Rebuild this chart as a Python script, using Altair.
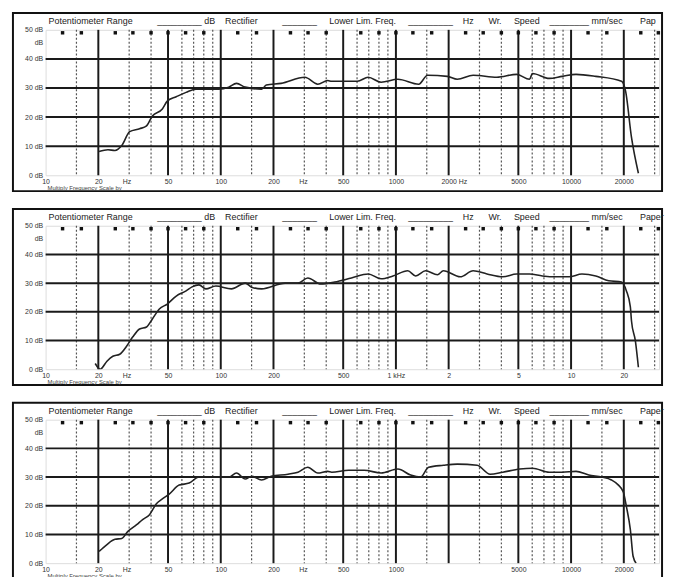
import altair as alt
import pandas as pd

# ---------------- data ----------------
freq_1 = [20.2, 22.7, 24.9, 27.2, 30.2, 34.4, 37.7, 40.7, 46.4, 49.5, 55.7, 63.4, 72.2, 97.4, 111, 123, 138, 171, 182,
          221, 302, 358, 408, 430, 602, 695, 823, 1026, 1349, 1517, 1968, 2240, 2760, 3770, 4890, 5790, 6020, 7510,
          8900, 10670, 13840, 19400, 20460, 22130, 24230]
db_1 = [8.2, 8.8, 8.5, 10.2, 15, 16, 17, 20.4, 22.8, 25.5, 27, 28.5, 29.6, 29.6, 30.3, 31.6, 30.3, 29.6, 31,
        31.6, 33.7, 31.3, 32.6, 32.3, 32.3, 33.7, 32, 33, 31.3, 34.4, 34, 33, 34.4, 33.7, 34.7, 33, 35, 33.3,
        34, 34.7, 34, 32.3, 29, 13, 0.7]

freq_2 = [19.2, 20.5, 22.4, 24.2, 26.5, 29, 31.4, 34.4, 37.7, 40.7, 44.6, 49.5, 55.7, 63.4, 68.6, 75.1, 82.2, 93.7,
          115, 138, 150, 171, 233, 276, 314, 372, 447, 557, 695, 823, 962, 1169, 1297, 1476, 1727, 1866, 2329,
          2760, 3310, 4075, 4890, 5790, 6860, 8230, 9750, 11540, 13840, 16400, 19400, 20700, 21800, 22130, 23300,
          24230]
db_2 = [2, 0, 2.8, 4.5, 5.2, 8, 11.2, 14, 14.7, 17.5, 21, 22.7, 25.5, 27.3, 28.7, 29.4, 28, 29,
        28, 30, 28.6, 28, 30, 30, 31.8, 29.7, 30.4, 31.8, 33.2, 31.5, 32.5, 34.3, 32.5, 34.3, 32.9, 34.3, 32.2,
        34.3, 33.2, 32.2, 33.2, 33.2, 32.5, 32.2, 32.2, 33.2, 32.5, 30.8, 30.4, 27.3, 21.7, 16.8, 9.8,
        0.7]

freq_3 = [20.2, 22.4, 24.9, 27.2, 29.4, 33.1, 35.8, 39.2, 42.9, 46.4, 50.8, 57.9, 66, 75.1, 97.4, 111, 123, 138,
          150, 171, 194, 242, 276, 314, 358, 408, 430, 537, 658, 823, 1026, 1214, 1383, 1537, 1866, 2240, 2910,
          3450, 4075, 5090, 6020, 7510, 8900, 10670, 12620, 14960, 17000, 18640, 19870, 20700, 21800, 22600, 23500]
db_3 = [4.1, 6.5, 8.3, 8.6, 11, 13.4, 15.2, 16.9, 20.7, 22.4, 24.1, 27.2, 27.9, 30, 30, 30, 31.4, 29.3,
        30.3, 29, 30.3, 31, 31.7, 33.4, 31.4, 32, 31.7, 32.4, 32.4, 31.4, 32.8, 30.7, 30, 33.4, 34.1, 34.5, 34.1,
        31, 31.7, 32.8, 33.1, 31.7, 31.7, 32, 30.7, 30, 29, 27.2, 24.8, 19.7, 11.7, 2.4, 0]

major_freqs = [20, 50, 100, 200, 500, 1000, 2000, 5000, 10000, 20000]
minor_freqs = [15, 30, 40, 60, 70, 80, 90, 150, 300, 400, 600, 700, 800, 900, 1500,
               3000, 4000, 6000, 7000, 8000, 9000, 15000, 30000]
marker_freqs = [12.5, 16, 25, 31.5, 40, 50, 63, 80, 125, 160, 250, 315, 400, 630, 800, 1000,
                1250, 1600, 2500, 3150, 4000, 5000, 6300, 8000, 12500, 16000, 25000, 31500]
level_lines = [10, 20, 30, 40]

x_ticks_1 = [10, 20, 29, 50, 100, 200, 295, 500, 1000, 2000, 2400, 5000, 10000, 20000]
x_labels_1 = ["10", "20", "Hz", "50", "100", "200", "Hz", "500", "1000", "2000", "Hz", "5000", "10000", "20000"]
x_ticks_2 = [10, 20, 29, 50, 100, 200, 500, 1000, 2000, 5000, 10000, 20000]
x_labels_2 = ["10", "20", "Hz", "50", "100", "200", "500", "1 kHz", "2", "5", "10", "20"]
x_ticks_3 = [10, 20, 29, 50, 100, 200, 295, 500, 1000, 5000, 10000, 20000]
x_labels_3 = ["10", "20", "Hz", "50", "100", "200", "Hz", "500", "1000", "5000", "10000", "20000"]

y_ticks = [0, 10, 20, 30, 40, 45.5, 50]
y_labels = ["0 dB", "10 dB", "20 dB", "30 dB", "40 dB", "dB", "50 dB"]

NB = "\u00a0"
header_start = ("Potentiometer Range" + NB * 10 + "_" * 9 + NB + "dB" + NB * 4 + "Rectifier" + NB * 10
                + "_" * 7 + NB * 5 + "Lower Lim. Freq." + NB * 5 + "_" * 9 + NB * 4 + "Hz" + NB * 6
                + "Wr." + NB * 5 + "Speed" + NB * 4 + "_" * 8 + NB + "mm/sec" + NB * 7)
header_1 = header_start + "Pap"
header_2 = header_start + "Paper"
header_3 = header_start + "Paper"
footer = "Multiply Frequency Scale by"

FONT = "Liberation Sans"
W = 620
X_DOMAIN = [10, 31800]


def label_expr(ticks, labels):
    expr = "''"
    for t, l in reversed(list(zip(ticks, labels))):
        expr = f"datum.value == {t} ? '{l}' : ({expr})"
    return expr


def panel(freqs, dbs, ticks, labels, header, H):
    xs = alt.Scale(type="log", domain=X_DOMAIN, nice=False)
    ys = alt.Scale(domain=[0, 50], nice=False)
    curve_df = pd.DataFrame({"f": freqs, "db": dbs})

    x_axis = alt.Axis(values=ticks, labelExpr=label_expr(ticks, labels), title=None, grid=False,
                      ticks=False, domain=False, labelFontSize=7, labelFont=FONT, labelColor="#333",
                      labelPadding=2, labelOverlap=False, labelBound=False, labelFlush=False)
    y_axis = alt.Axis(values=y_ticks, labelExpr=label_expr(y_ticks, y_labels), title=None, grid=False,
                      ticks=False, domain=False, labelFontSize=7, labelFont=FONT, labelColor="#333",
                      labelPadding=3, labelOverlap=False, labelBound=False, labelFlush=False)
    X = lambda: alt.X("f:Q", scale=xs, axis=x_axis)
    Y = lambda: alt.Y("db:Q", scale=ys, axis=y_axis)

    major = alt.Chart(pd.DataFrame({"f": major_freqs})).mark_rule(color="#1a1a1a", strokeWidth=2).encode(x=X())
    minor = alt.Chart(pd.DataFrame({"f": minor_freqs})).mark_rule(
        color="#555", strokeWidth=1.2, strokeDash=[2, 2]).encode(x=X())
    levels = alt.Chart(pd.DataFrame({"db": level_lines})).mark_rule(color="#1a1a1a", strokeWidth=2).encode(y=Y())
    markers = alt.Chart(pd.DataFrame({"f": marker_freqs})).mark_point(
        shape="square", filled=True, size=12, color="#111", opacity=1).encode(x=X(), y=alt.value(3))
    line = alt.Chart(curve_df).mark_line(color="#222", strokeWidth=1.6, interpolate="monotone", clip=True).encode(
        x=X(), y=Y())
    frame = alt.Chart(pd.DataFrame({"k": [0]})).mark_rect(
        filled=False, stroke="#111", strokeWidth=2).encode(
        x=alt.value(-33), x2=alt.value(W + 3), y=alt.value(-17), y2=alt.value(H + 16))
    head = alt.Chart(pd.DataFrame({"t": [header]})).mark_text(
        align="left", baseline="middle", fontSize=9, font=FONT, color="#222").encode(
        text="t:N", x=alt.value(3), y=alt.value(-9))
    foot = alt.Chart(pd.DataFrame({"t": [footer]})).mark_text(
        align="left", baseline="middle", fontSize=6, font=FONT, color="#444").encode(
        text="t:N", x=alt.value(2), y=alt.value(H + 13))

    return alt.layer(frame, minor, major, levels, markers, line, head, foot).properties(width=W, height=H)


p1 = panel(freq_1, db_1, x_ticks_1, x_labels_1, header_1, 147)
p2 = panel(freq_2, db_2, x_ticks_2, x_labels_2, header_2, 145)
p3 = panel(freq_3, db_3, x_ticks_3, x_labels_3, header_3, 145)

chart = alt.vconcat(p1, p2, p3, spacing=14).properties(
    padding={"left": 3, "top": 0, "right": 0, "bottom": 0}
).configure_view(stroke="#111", strokeWidth=2).configure(background="white")

chart.save("out.html", embed_options={"renderer": "svg", "actions": False})
